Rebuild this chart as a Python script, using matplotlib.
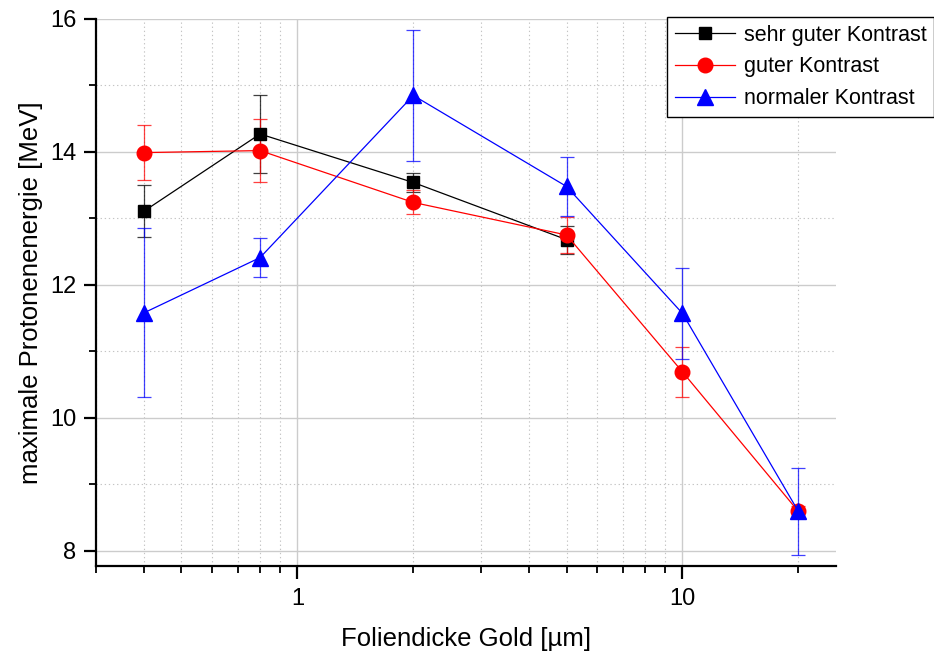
import matplotlib
matplotlib.use("Agg")
import matplotlib.pyplot as plt
import matplotlib.ticker as mticker
from matplotlib.lines import Line2D

plt.rcParams['font.family'] = ['Liberation Sans', 'DejaVu Sans']

# Foliendicke in um
x_black = [0.4, 0.8, 2, 5]
y_black = [13.11, 14.27, 13.54, 12.68]
e_black = [0.39, 0.58, 0.14, 0.21]

x_red = [0.4, 0.8, 2, 5, 10, 20]
y_red = [13.99, 14.02, 13.24, 12.75, 10.69, 8.59]
e_red = [0.41, 0.47, 0.18, 0.27, 0.38, 0.09]

x_blue = [0.4, 0.8, 2, 5, 10, 20]
y_blue = [11.58, 12.41, 14.85, 13.48, 11.57, 8.59]
e_blue = [1.27, 0.29, 0.98, 0.45, 0.68, 0.66]

labels = ["sehr guter Kontrast", "guter Kontrast", "normaler Kontrast"]

fig = plt.figure(figsize=(9.34, 6.55), dpi=100)
ax = fig.add_axes([0.1028, 0.1359, 0.792, 0.8351])

series = [
    (x_black, y_black, e_black, 'black', 's', 9, labels[0]),
    (x_red, y_red, e_red, 'red', 'o', 10.5, labels[1]),
    (x_blue, y_blue, e_blue, 'blue', '^', 11, labels[2]),
]
handles = []
for xs, ys, es, c, m, ms, lab in series:
    eb = ax.errorbar(xs, ys, yerr=es, color=c, marker=m, markersize=ms,
                     lw=0.9, elinewidth=0.9, capsize=5, capthick=0.9,
                     zorder=3)
    for part in eb[1]:
        part.set_alpha(0.75)
    for part in eb[2]:
        part.set_alpha(0.75)
    handles.append(Line2D([], [], color=c, marker=m, markersize=ms, lw=0.9,
                          label=lab))

ax.set_xscale('log')
ax.set_xlim(0.3, 25)
ax.set_ylim(7.77, 16)

ax.xaxis.set_major_locator(mticker.FixedLocator([1, 10]))
ax.xaxis.set_major_formatter(mticker.FixedFormatter(['1', '10']))
ax.xaxis.set_minor_locator(mticker.FixedLocator([0.3, 0.4, 0.5, 0.6, 0.7, 0.8, 0.9,
                                                 2, 3, 4, 5, 6, 7, 8, 9, 20]))
ax.xaxis.set_minor_formatter(mticker.NullFormatter())
ax.yaxis.set_major_locator(mticker.MultipleLocator(2))
ax.yaxis.set_minor_locator(mticker.MultipleLocator(1))

ax.grid(which='major', color='#cccccc', lw=1.0, ls='-', zorder=0)
ax.grid(which='minor', color='#c4c4c4', lw=0.8, ls=(0, (1.2, 2.5)), zorder=0)
ax.set_axisbelow(True)

for s in ['top', 'right']:
    ax.spines[s].set_visible(False)
for s in ['left', 'bottom']:
    ax.spines[s].set_linewidth(1.6)

ax.tick_params(which='major', direction='out', length=9, width=1.6,
               labelsize=17, pad=5)
ax.tick_params(axis='x', which='major', pad=7)
ax.tick_params(which='minor', direction='out', length=5, width=1.3)

ax.set_xlabel("Foliendicke Gold [µm]", fontsize=18.5, labelpad=12)
ax.set_ylabel("maximale Protonenenergie [MeV]", fontsize=18.5, labelpad=5)

leg = ax.legend(handles=handles, loc='upper right',
                bbox_to_anchor=(1.0, 1 - 17 / 655),
                bbox_transform=fig.transFigure, fontsize=15.5,
                frameon=True, fancybox=False, handlelength=2.8,
                handletextpad=0.4, labelspacing=0.5, borderpad=0.35,
                borderaxespad=0.0)
leg.get_frame().set_edgecolor('black')
leg.get_frame().set_linewidth(1.0)
leg.get_frame().set_alpha(1)
leg.set_zorder(5)

fig.savefig("out.png", dpi=100)
